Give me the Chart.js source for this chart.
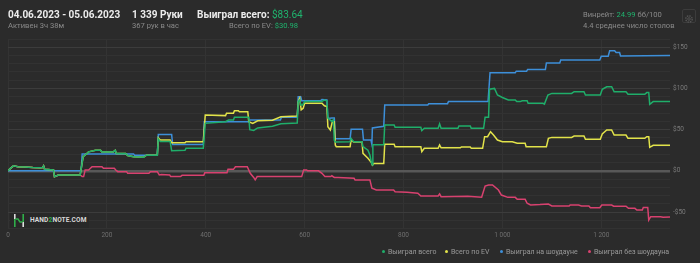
<!DOCTYPE html>
<html>
<head>
<meta charset="utf-8">
<script src="https://cdn.jsdelivr.net/npm/chart.js@4.4.1/dist/chart.umd.min.js"></script>
<style>
  html, body { margin:0; padding:0; background:#2b2b2b; }
  #wrap { position:relative; width:700px; height:263px; background:#2b2b2b; overflow:hidden; font-family:Roboto, "Noto Sans", sans-serif; }
  #c { position:absolute; left:0; top:0; }
  .t { position:absolute; white-space:nowrap; line-height:1; }
  .big { font-size:10px; font-weight:700; color:#ececec; }
  .small { font-size:7.6px; color:#8a8a8a; }
  .g { color:#1fb46e; }
  .leg { position:absolute; top:248px; font-size:7px; color:#9a9a9a; white-space:nowrap; line-height:8px; }
  .leg i { display:inline-block; width:3px; height:3px; border-radius:50%; margin-right:3px; vertical-align:1px; }
  #logo { position:absolute; left:10px; top:213px; width:79px; height:15px; background:#282828; }
  #gear { position:absolute; left:682px; top:9px; width:12px; height:12px; border:1px solid #3c3c3c; border-radius:2px; }
</style>
</head>
<body>
<div id="wrap">
  <canvas id="c" width="700" height="263"></canvas>
  <div class="t big" style="left:8px;top:10px;">04.06.2023 - 05.06.2023</div>
  <div class="t small" style="left:8px;top:22px;">Активен 3ч 38м</div>
  <div class="t big" style="left:132px;top:10px;">1 339 Руки</div>
  <div class="t small" style="left:132px;top:22px;">367 рук в час</div>
  <div class="t big" style="left:197px;top:10px;">Выиграл всего: <span class="g" style="font-weight:400">$83.64</span></div>
  <div class="t small" style="right:402px;top:22px;">Всего по EV: <span class="g">$30.98</span></div>
  <div class="t small" style="left:583px;top:11px;">Винрейт: <span class="g">24.99</span> бб/100</div>
  <div class="t small" style="left:583px;top:22px;">4.4 среднее число столов</div>
  <div id="gear">
    <svg width="12" height="12" viewBox="0 0 12 12"><circle cx="6" cy="6" r="3.2" fill="none" stroke="#5a5a5a" stroke-width="1.2" stroke-dasharray="1.5 1"/><circle cx="6" cy="6" r="1.3" fill="none" stroke="#5a5a5a" stroke-width="0.8"/></svg>
  </div>
  <div id="logo">
    <svg style="position:absolute;left:3px;top:1px" width="12" height="13" viewBox="0 0 12 13">
      <rect x="1" y="0" width="1.6" height="5" fill="#dddddd"/>
      <rect x="1" y="5" width="1.6" height="8" fill="#2fae4a"/>
      <rect x="9.4" y="0" width="1.6" height="8" fill="#2fae4a"/>
      <rect x="9.4" y="8" width="1.6" height="5" fill="#dddddd"/>
      <path d="M2.6 5 L5 5 L7 8 L9.4 8" stroke="#2fae4a" stroke-width="1.4" fill="none"/>
    </svg>
    <div class="t" style="left:20px;top:4px;font-size:6.6px;font-weight:700;color:#d8d8d8;letter-spacing:0.1px;">HAND<span style="color:#2fae4a">2</span>NOTE.COM</div>
  </div>
  <div class="leg" style="left:382px;"><i style="background:#1fae6a"></i>Выиграл всего</div>
  <div class="leg" style="left:445px;"><i style="background:#e2e34a"></i>Всего по EV</div>
  <div class="leg" style="left:500px;"><i style="background:#3d8fd9"></i>Выиграл на шоудауне</div>
  <div class="leg" style="left:588px;"><i style="background:#d8416f"></i>Выиграл без шоудауна</div>
</div>
<script>
// Series: [hand number, dollars]
const wonTotal = [[0,0],[5,3],[11,6],[20,5],[35,4.5],[50,4],[65,3.8],[70,4],[72,6],[74,2],[92,1],[94,-7],[102,-5],[146,-5],[150,10],[152,17],[163,23],[177,25],[187,25],[190,23],[213,23],[217,25],[219,21],[238,21],[242,18.5],[254,17],[274,16.5],[280,19],[302,19],[304,39],[308,35.5],[328,35.5],[331,24.5],[358,25],[360,27.3],[395,27.3],[399,57.6],[440,59.6],[446,61.7],[456,61.7],[458,65],[487,65],[489,50],[497,49],[505,52],[535,54],[552,57],[585,58],[587,84],[590,86],[592,80],[596,80],[600,84],[635,84],[640,86],[645,85],[647,64],[655,60],[658,62],[660,37],[662,35],[692,35.3],[694,39.4],[699,35.3],[716,35.3],[718,29.3],[728,25],[732,19.2],[735,10],[737,7],[738,31.5],[760,31.5],[762,55.6],[781,55.6],[783,52.8],[835,52.8],[837,48.7],[842,51.6],[870,51.6],[873,57],[876,51.6],[910,51.6],[912,54.4],[935,54.4],[937,51.6],[962,51.6],[965,65],[972,65],[974,99],[984,100],[990,92],[1000,89],[1012,86],[1026,86],[1029,84],[1036,84],[1040,85],[1050,85],[1052,82],[1082,82],[1085,81],[1092,92],[1100,94],[1140,94],[1145,96],[1165,96],[1168,92],[1198,92],[1202,99],[1211,102],[1221,102],[1226,96],[1250,96],[1254,93],[1288,93],[1292,95],[1296,95],[1298,80.7],[1305,84],[1339,84]];
const evTotal = [[0,0],[5,3],[11,6],[20,5],[35,4.5],[50,4],[65,3.8],[70,4],[72,6],[74,2],[92,1],[94,-7],[102,-5],[146,-5],[150,10],[152,17],[163,23],[177,25],[187,25],[190,23],[213,23],[217,25],[219,21],[238,21],[242,18.5],[254,17],[274,16.5],[280,19],[302,19],[304,40],[308,37.4],[328,37.4],[331,34],[358,34],[360,35.3],[395,35.3],[399,67.7],[440,67],[442,69.8],[456,69.8],[458,73],[466,73],[468,71.7],[485,71.7],[487,59.6],[495,57.6],[505,60.8],[535,61.5],[552,65.7],[585,66.5],[587,84],[590,88],[593,74],[597,76],[600,82],[635,82],[640,79],[645,78],[647,53.5],[652,49.5],[656,59.6],[660,59.6],[662,31.3],[664,29.3],[692,29.3],[694,37.4],[699,35],[716,35],[718,21.2],[728,15.2],[735,10],[737,7],[740,9],[760,9],[762,32.2],[781,32.2],[783,29.3],[835,29.3],[837,23.2],[842,27.3],[870,27.3],[873,31.3],[876,28],[915,28],[917,29],[935,29],[937,27.3],[960,27.3],[964,41.4],[970,41.4],[976,47.5],[982,43.4],[990,37.4],[1000,35.3],[1020,35.3],[1030,33.4],[1046,33.4],[1048,29.3],[1089,29.3],[1093,39.4],[1100,40.6],[1140,40.6],[1145,42.2],[1165,42.2],[1168,38.2],[1198,38.2],[1202,44.7],[1211,49.5],[1221,49.5],[1226,43.4],[1250,43.4],[1254,39.4],[1288,39.4],[1292,41.4],[1296,41.4],[1298,28.5],[1305,31],[1339,31]];
const wonShowdown = [[0,0],[148,0],[150,20.5],[254,20.5],[256,19],[302,19],[304,44],[331,44],[333,32],[395,32],[397,59.6],[487,59.6],[489,61.7],[551,61.7],[553,65],[585,65],[587,90],[592,90],[594,85],[632,85],[635,86.5],[645,86],[647,63.5],[655,64],[660,64],[662,39],[692,39],[694,50.4],[717,50.4],[719,37.5],[734,37.5],[736,32],[737,52],[760,54],[762,80],[849,80],[851,81.5],[889,81.5],[891,84],[971,84],[975,119],[1026,119],[1028,121],[1049,121],[1051,123],[1087,123],[1089,131],[1116,131],[1118,134.5],[1197,134.5],[1200,139],[1214,139],[1217,145.8],[1227,145.8],[1230,143.6],[1237,143.6],[1239,139.3],[1339,140]];
const wonNonShowdown = [[0,0],[5,3],[11,6],[20,5],[35,4.5],[50,4],[65,3.8],[70,4],[72,6],[74,2],[92,1],[94,-7],[102,-5],[146,-5],[150,-7],[153,-7],[156,1],[163,1],[170,5],[190,5],[193,3],[215,3],[218,1],[222,-1],[240,-1],[242,-3],[285,-3],[288,-1],[302,-1],[306,-5],[310,-4.5],[327,-5],[329,-7],[349,-7],[352,-5.5],[396,-5.5],[398,-2.3],[443,-2.3],[445,1.8],[456,1.8],[460,5],[484,5],[490,-3],[497,-8],[500,-11],[504,-7],[594,-7],[598,1],[604,1],[606,0],[628,0],[635,-3],[641,-7],[653,-7],[655,-6],[660,-8],[668,-8],[700,-9],[702,-11],[732,-11],[736,-21],[745,-23.3],[780,-23.3],[783,-25.4],[807,-26],[829,-27.3],[835,-30.6],[870,-30.6],[873,-28],[876,-31.4],[930,-31],[958,-32],[965,-18.4],[972,-17.2],[980,-17.2],[992,-23.3],[998,-29.4],[1011,-32.2],[1026,-32.2],[1030,-34.6],[1046,-34.6],[1050,-39.4],[1057,-41.5],[1076,-41],[1093,-40.3],[1100,-42.7],[1135,-42.7],[1137,-41.5],[1154,-41.5],[1160,-42.7],[1175,-42.7],[1178,-44.8],[1197,-44.8],[1201,-41.5],[1221,-41.5],[1225,-43],[1250,-43],[1255,-45.5],[1268,-45.5],[1272,-47.6],[1283,-47.6],[1285,-44.5],[1294,-44.5],[1296,-59.7],[1300,-55.7],[1320,-55.7],[1325,-56.4],[1339,-56]];

const seriesNames = ['Выиграл всего', 'Всего по EV', 'Выиграл на шоудауне', 'Выиграл без шоудауна'];
const seriesColors = ['#1fae6a', '#e2e34a', '#3d8fd9', '#d8416f'];
const xTickValues = [0, 200, 400, 600, 800, 1000, 1200];
const yLabelValues = [-50, 0, 50, 100, 150];
const totalHands = 1339;

const toXY = arr => arr.map(p => ({x: p[0], y: p[1]}));
const allSeries = [wonTotal, evTotal, wonShowdown, wonNonShowdown];

new Chart(document.getElementById('c'), {
  type: 'line',
  data: {
    datasets: allSeries.map((s, i) => ({
      label: seriesNames[i],
      data: toXY(s),
      borderColor: seriesColors[i],
      backgroundColor: seriesColors[i],
      borderWidth: 1.5,
      pointRadius: 0,
      tension: 0,
      fill: false
    }))
  },
  options: {
    responsive: false,
    devicePixelRatio: 1,
    animation: false,
    layout: { padding: { left: 8, top: 39, right: 0, bottom: 0 } },
    plugins: { legend: { display: false }, tooltip: { enabled: false } },
    scales: {
      x: {
        type: 'linear',
        min: 0,
        max: totalHands,
        afterFit: s => { s.height = 34.5; },
        afterBuildTicks: s => { s.ticks = xTickValues.map(v => ({value: v})); },
        ticks: {
          color: '#6f6f6f',
          font: { size: 6.5, family: 'Roboto' },
          padding: 3,
          maxRotation: 0,
          callback: v => String(v).replace(/\B(?=(\d{3})+(?!\d))/g, ' ')
        },
        grid: { color: '#333333', lineWidth: 1, drawTicks: false },
        border: { display: false }
      },
      y: {
        position: 'right',
        min: -70,
        max: 160,
        afterFit: s => { s.width = 30; },
        ticks: {
          stepSize: 10,
          autoSkip: false,
          color: '#7a7a7a',
          font: { size: 6.5, family: 'Roboto' },
          padding: 3,
          callback: v => yLabelValues.includes(v) ? (v < 0 ? '-$' + Math.abs(v) : '$' + v) : ''
        },
        grid: {
          drawTicks: false,
          color: ctx => ctx.tick.value === 0 ? '#585858' : (ctx.tick.value % 50 === 0 ? '#3c3c3c' : '#323232'),
          lineWidth: ctx => ctx.tick.value === 0 ? 2.5 : 1
        },
        border: { display: false }
      }
    }
  }
});
</script>
</body>
</html>
